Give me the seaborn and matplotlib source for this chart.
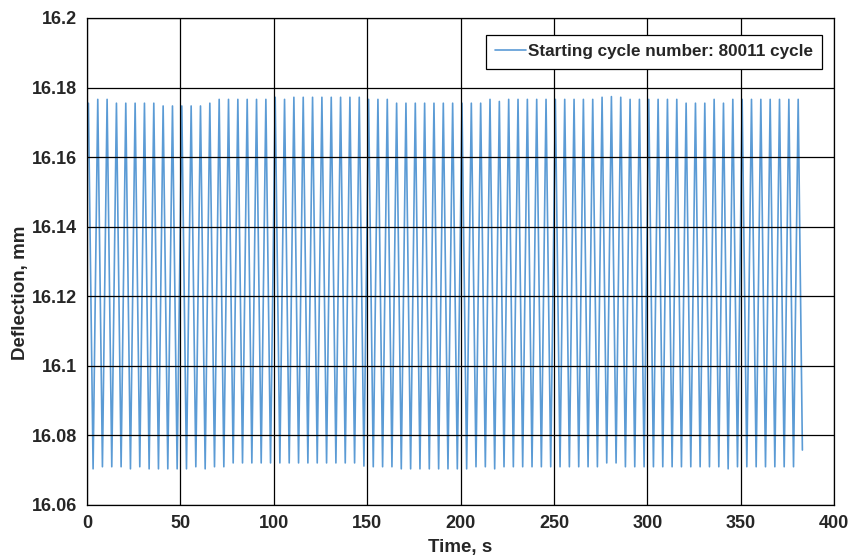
import numpy as np
import pandas as pd
import matplotlib.pyplot as plt
import seaborn as sns

# Deflection peaks (upper turning points), one per load cycle, mm
PEAKS = [
    16.1755, 16.1766, 16.1766, 16.1755, 16.1755, 16.1755, 16.1755, 16.1755, 16.1747, 16.1747,
    16.1747, 16.1747, 16.1747, 16.1755, 16.1766, 16.1766, 16.1766, 16.1766, 16.1766, 16.1766,
    16.1772, 16.1766, 16.1772, 16.1772, 16.1772, 16.1772,
    16.1772, 16.1772, 16.1772, 16.1772, 16.1766, 16.1766, 16.1766, 16.1755, 16.1755, 16.1755,
    16.1755, 16.1755, 16.1755, 16.1755, 16.1755, 16.1755, 16.1755, 16.1766, 16.1760, 16.1766,
    16.1766, 16.1766, 16.1766, 16.1766, 16.1766, 16.1766,
    16.1766, 16.1766, 16.1766, 16.1772, 16.1774, 16.1772, 16.1766, 16.1766, 16.1766, 16.1766,
    16.1766, 16.1766, 16.1755, 16.1755, 16.1755, 16.1766, 16.1755, 16.1766, 16.1766, 16.1766,
    16.1766, 16.1766, 16.1766, 16.1766, 16.1766,
]

# Deflection troughs (lower turning points), mm
TROUGHS = [
    16.0704, 16.0710, 16.0710, 16.0710, 16.0704, 16.0710, 16.0704, 16.0704, 16.0704, 16.0704,
    16.0704, 16.0710, 16.0704, 16.0710, 16.0710, 16.0721, 16.0721, 16.0721, 16.0721, 16.0721,
    16.0721, 16.0721, 16.0721, 16.0721, 16.0721,
    16.0721, 16.0721, 16.0721, 16.0721, 16.0712, 16.0710, 16.0710, 16.0710, 16.0704, 16.0704,
    16.0704, 16.0704, 16.0704, 16.0704, 16.0704, 16.0704, 16.0710, 16.0710, 16.0704, 16.0710,
    16.0710, 16.0710, 16.0710, 16.0710, 16.0710, 16.0710,
    16.0710, 16.0710, 16.0710, 16.0710, 16.0721, 16.0721, 16.0710, 16.0710, 16.0710, 16.0710,
    16.0710, 16.0710, 16.0710, 16.0710, 16.0710, 16.0710, 16.0710, 16.0704, 16.0710, 16.0710,
    16.0710, 16.0710, 16.0710, 16.0710, 16.0710,
]

START_VALUE = 16.166   # deflection at t = 0
END_VALUE = 16.0758    # last recorded sample
END_TIME = 383.0
FIRST_PEAK = 0.75      # s
HALF_CYCLE = 2.5       # s  (0.2 Hz loading)

LABEL = "Starting cycle number: 80011 cycle"
Y_TICKS = [16.06, 16.08, 16.1, 16.12, 16.14, 16.16, 16.18, 16.2]
X_TICKS = [0, 50, 100, 150, 200, 250, 300, 350, 400]

# turning points interleaved: peak, trough, peak, ...
turn_vals = []
for i, p in enumerate(PEAKS):
    turn_vals.append(p)
    if i < len(TROUGHS):
        turn_vals.append(TROUGHS[i])
turn_times = FIRST_PEAK + HALF_CYCLE * np.arange(len(turn_vals))

df = pd.DataFrame({
    "time": np.concatenate([[0.0], turn_times, [END_TIME]]),
    "deflection": np.concatenate([[START_VALUE], turn_vals, [END_VALUE]]),
})

sns.set_style("white")
plt.rcParams["font.family"] = ["Liberation Sans", "DejaVu Sans"]

fig = plt.figure(figsize=(8.49, 5.55), dpi=100)
ax = fig.add_axes([0.1025, 0.0901, 0.8800, 0.8775])

sns.lineplot(data=df, x="time", y="deflection", ax=ax, color="#5B9BD5",
             linewidth=1.2, label=LABEL, estimator=None, sort=False)

ax.set_xlim(0, 400)
ax.set_ylim(16.06, 16.2)
ax.set_xticks(X_TICKS)
ax.set_yticks(Y_TICKS)
ax.set_xticklabels([str(v) for v in X_TICKS], fontsize=13, fontweight="bold")
ax.set_yticklabels([f"{v:g}" for v in Y_TICKS], fontsize=13, fontweight="bold")
ax.tick_params(axis="both", length=0, pad=7)

ax.grid(True, color="black", linewidth=0.9)
ax.set_axisbelow(False)
for s in ax.spines.values():
    s.set_color("black")
    s.set_linewidth(0.9)

ax.set_xlabel("Time, s", fontsize=13.5, fontweight="bold", labelpad=5)
ax.set_ylabel("Deflection, mm", fontsize=13.5, fontweight="bold")
ax.yaxis.set_label_coords(-0.077, 0.435)

leg = ax.legend(loc="upper right", bbox_to_anchor=(0.984, 0.965), borderaxespad=0,
                fancybox=False, framealpha=1, edgecolor="black", handlelength=1.8,
                handletextpad=0.1, borderpad=0.55, prop={"weight": "bold", "size": 12.3})
leg.get_frame().set_linewidth(0.9)

fig.savefig("out.png", dpi=100)
